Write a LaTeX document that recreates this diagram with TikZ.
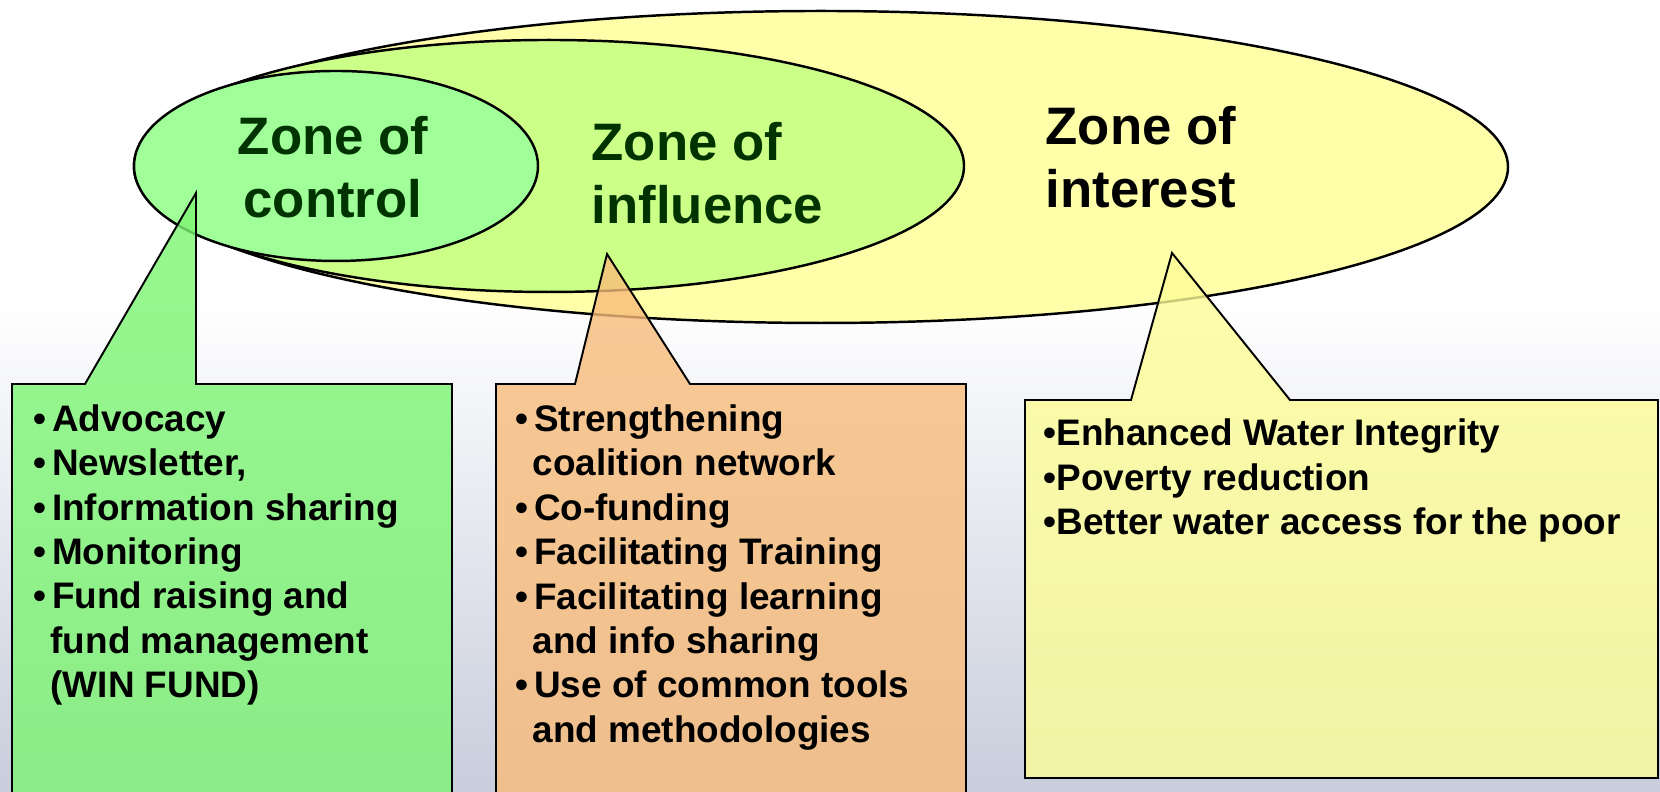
\documentclass[tikz,border=0pt]{standalone}
\usepackage{fontspec}
\setmainfont{Liberation Sans}
\usepackage{tikz}
\usetikzlibrary{shapes.geometric}
\definecolor{interest}{RGB}{255, 255, 170}
\definecolor{influence}{RGB}{204, 255, 136}
\definecolor{control}{RGB}{160, 255, 152}
\definecolor{zonetext}{RGB}{0, 51, 0}
\definecolor{ctrlfill}{RGB}{125, 245, 115}
\definecolor{inflfill}{RGB}{248, 188, 122}
\definecolor{intfill}{RGB}{252, 252, 150}
\definecolor{bgbottom}{RGB}{200, 205, 220}
\newcommand{\blt}{\makebox[0.5em][l]{\textbullet}}
\newcommand{\ind}{\hspace*{0.46em}}

\begin{document}
\begin{tikzpicture}[
  zone/.style={ellipse, draw, line width=0.7pt, inner sep=0},
  zonelabel/.style={font=\bfseries\fontsize{15}{17.8}\selectfont, inner sep=0},
  callout/.style={draw, line width=0.55pt, fill opacity=0.8},
  listtext/.style={font=\bfseries\fontsize{10.5}{12.66}\selectfont, align=left,
                   inner sep=0, anchor=base west}]
  \useasboundingbox (0, 0) rectangle (16.6, 7.92);
  \fill[white] (0, 0) rectangle (16.6, 7.92);
  \shade[top color=white, bottom color=bgbottom] (0, 0) rectangle (16.6, 4.9);

  \node[zone, fill=interest, minimum width=13.74cm, minimum height=3.12cm] (interest) at (8.21, 6.25) {};
  \node[zone, fill=influence, minimum width=8.3cm, minimum height=2.52cm] (influence) at (5.49, 6.26) {};
  \node[zone, fill=control, minimum width=4.04cm, minimum height=1.9cm] (control) at (3.36, 6.26) {};

  \node[zonelabel, text=zonetext, align=center] (controltxt) at (3.33, 6.25) {Zone of\\control};
  \node[zonelabel, text=zonetext, align=left, anchor=west] (influencetxt) at (5.91, 6.19) {Zone of\\influence};
  \node[zonelabel, align=left, anchor=west] (interesttxt) at (10.45, 6.35) {Zone of\\interest};

  \coordinate (ctrltip) at (1.96, 5.99);
  \coordinate (infltip) at (6.07, 5.38);
  \coordinate (inttip) at (11.72, 5.39);

  \draw[callout, fill=ctrlfill] (0.12, 4.08) -- (0.85, 4.08) -- (ctrltip) -- (1.96, 4.08)
    -- (4.52, 4.08) -- (4.52, -0.1) -- (0.12, -0.1) -- cycle;
  \draw[callout, fill=inflfill] (4.96, 4.08) -- (5.75, 4.08) -- (infltip) -- (6.90, 4.08)
    -- (9.66, 4.08) -- (9.66, -0.1) -- (4.96, -0.1) -- cycle;
  \draw[callout, fill=intfill] (10.25, 3.92) -- (11.31, 3.92) -- (inttip) -- (12.90, 3.92)
    -- (16.58, 3.92) -- (16.58, 0.14) -- (10.25, 0.14) -- cycle;

  % base anchor sits on the last line
  \node[listtext] (ctrllist) at (0.33, 0.94) {\blt Advocacy\\ \blt Newsletter,\\
    \blt Information sharing\\ \blt Monitoring\\ \blt Fund raising and\\
    \ind fund management\\ \ind (WIN FUND)};
  \node[listtext] (infllist) at (5.15, 0.495) {\blt Strengthening\\ \ind coalition network\\
    \blt Co-funding\\ \blt Facilitating Training\\ \blt Facilitating learning\\
    \ind and info sharing\\ \blt Use of common tools\\ \ind and methodologies};
  \node[listtext] (intlist) at (10.43, 2.57) {\textbullet Enhanced Water Integrity\\
    \textbullet Poverty reduction\\ \textbullet Better water access for the poor};
\end{tikzpicture}
\end{document}
